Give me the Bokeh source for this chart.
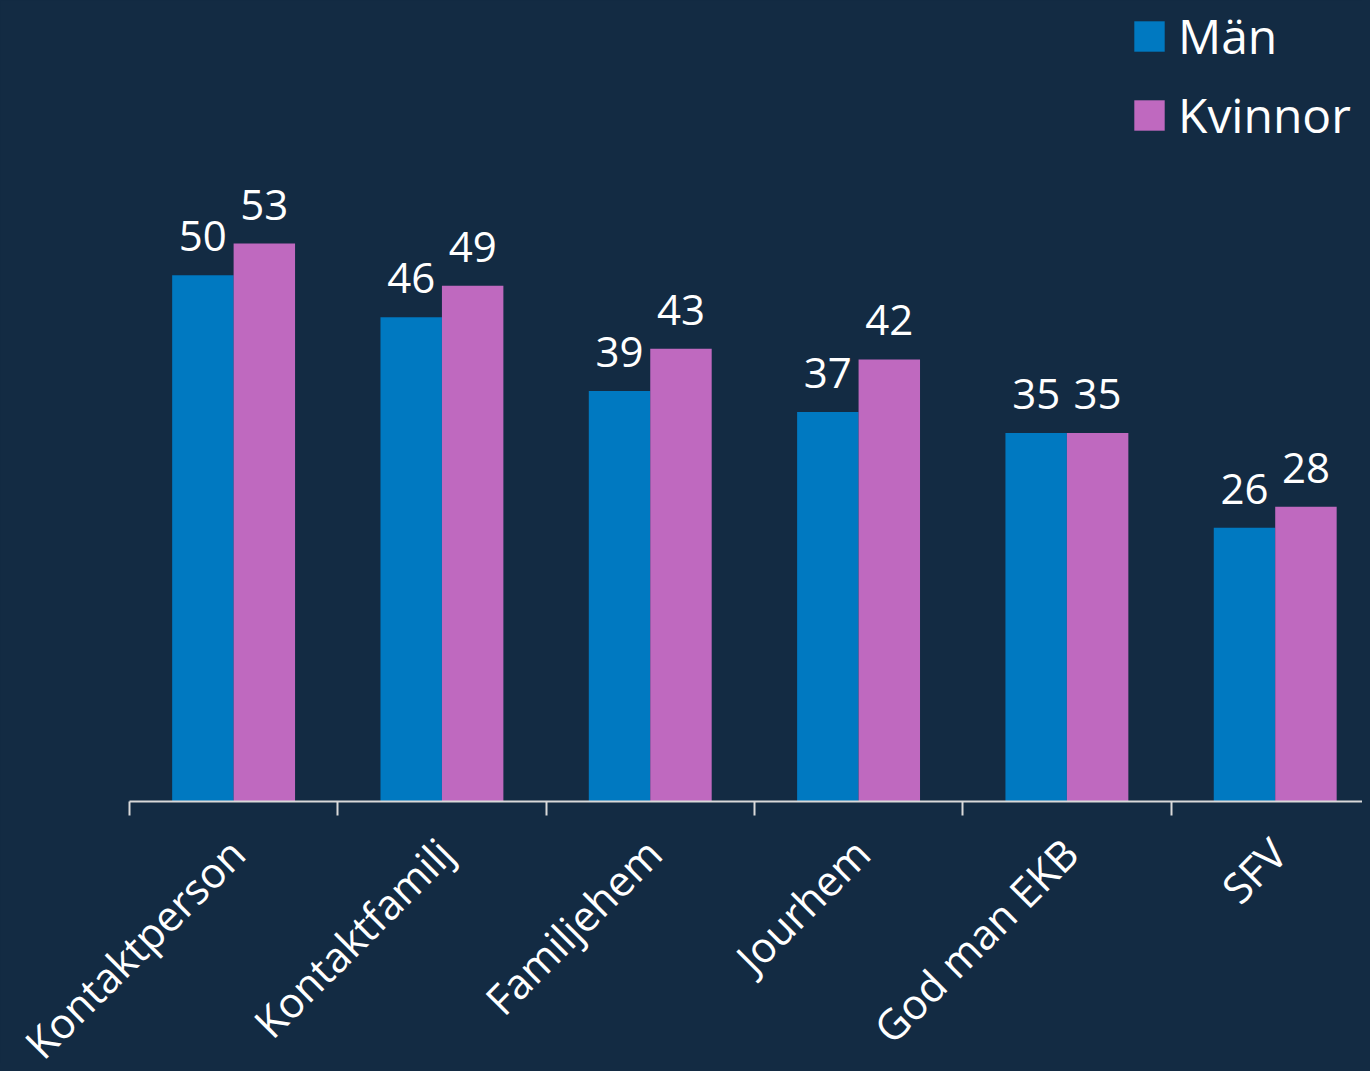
import math
from bokeh.plotting import figure
from bokeh.models import (ColumnDataSource, Range1d, FixedTicker, LabelSet, Legend, LegendItem)
from bokeh.core.properties import value
from bokeh.embed import file_html
from bokeh.resources import INLINE

categories = ["Kontaktperson", "Kontaktfamilj", "Familjehem", "Jourhem", "God man EKB", "SFV"]
man = [50, 46, 39, 37, 35, 26]
kvinnor = [53, 49, 43, 42, 35, 28]
series_names = ["Män", "Kvinnor"]

BG = "#132b43"
BLUE = "#0079c1"
PURPLE = "#bf69bf"
FONT = "Open Sans"

n = len(categories)
centers = [i + 0.5 for i in range(n)]
bw = 0.295
off = 0.1475

p = figure(width=1362, height=1063, output_backend="svg", toolbar_location=None,
           x_range=Range1d(-0.619, 5.919), y_range=Range1d(-24.9, 76.1),
           min_border_left=0, min_border_right=0, min_border_top=0, min_border_bottom=0,
           background_fill_color=BG, border_fill_color=BG, outline_line_color=None)

src_m = ColumnDataSource(dict(x=[c - off for c in centers], y=man, t=[str(v) for v in man]))
src_k = ColumnDataSource(dict(x=[c + off for c in centers], y=kvinnor, t=[str(v) for v in kvinnor]))
src_c = ColumnDataSource(dict(x=centers, t=categories, y=[0] * n))

r_m = p.vbar(x="x", top="y", width=bw, source=src_m, fill_color=BLUE, line_color=None)
r_k = p.vbar(x="x", top="y", width=bw, source=src_k, fill_color=PURPLE, line_color=None)

for src in (src_m, src_k):
    p.add_layout(LabelSet(x="x", y="y", text="t", source=src, text_align="center",
                          text_baseline="alphabetic", y_offset=24, text_color="white",
                          text_font=value(FONT), text_font_size="42px"))

# category labels below the axis, rotated 45 degrees
p.add_layout(LabelSet(x="x", y="y", text="t", source=src_c,
                      angle=math.pi / 4, text_align="right", text_baseline="middle",
                      x_offset=3, y_offset=-44, text_color="white", text_font=value(FONT),
                      text_font_size="42px"))

p.yaxis.visible = False
p.grid.visible = False

ax = p.xaxis[0]
ax.fixed_location = 0
ax.bounds = (0, 5.919)
ax.ticker = FixedTicker(ticks=centers, minor_ticks=list(range(n)))
ax.major_label_text_color = None
ax.major_label_text_font_size = "1px"
ax.major_tick_line_color = None
ax.major_tick_out = 0
ax.major_tick_in = 0
ax.minor_tick_line_color = "#d9d9d9"
ax.minor_tick_line_width = 2
ax.minor_tick_out = 14
ax.minor_tick_in = 0
ax.axis_line_color = "#d9d9d9"
ax.axis_line_width = 2

legend = Legend(items=[LegendItem(label=series_names[0], renderers=[r_m]),
                       LegendItem(label=series_names[1], renderers=[r_k])],
                location=(1001 + 129, 654 + 262), orientation="vertical",
                glyph_width=38, glyph_height=38, label_height=65, spacing=14,
                label_standoff=10, padding=0, margin=0,
                label_text_font=FONT, label_text_font_size="48px", label_text_color="white",
                background_fill_alpha=0, border_line_color=None)
p.add_layout(legend)

html = file_html(p, INLINE)
html = html.replace("<head>", "<head><style>html,body{background:#132b43;}</style>", 1)
open("out.html", "w").write(html)
